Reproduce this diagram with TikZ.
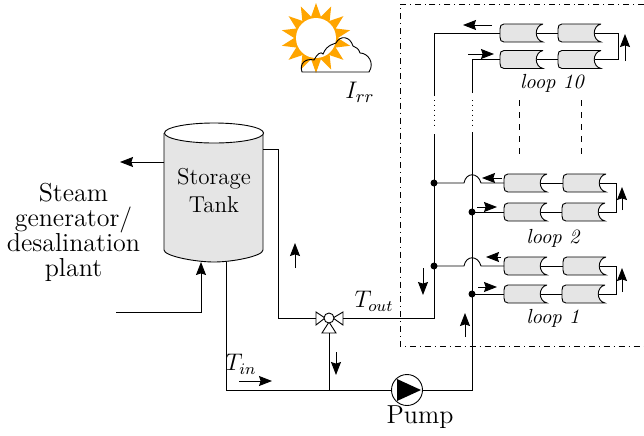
\documentclass[tikz,border=0pt]{standalone}
\usepackage{amsmath}
\usetikzlibrary{arrows.meta, shapes.geometric}
\definecolor{sunorange}{HTML}{FFA500}
\tikzset{
    collector/.pic={
        \draw[fill=gray!20] (43, -9) -- (4, -9) .. controls (1, -9) and (0, -7) .. (0, -4) -- (0, 4)
            .. controls (0, 7) and (1, 9) .. (4, 9) -- (43, 9) .. controls (34, 7) and (34, -7) .. (43, -9);
        \coordinate (-in) at (0, 0);
        \coordinate (-out) at (36.5, 0);
    },
    flow/.style={->, line width=0.45pt},
    looplabel/.style={font=\fontsize{10.2}{11}\selectfont\itshape},
    bigtext/.style={font=\fontsize{11.5}{14}\selectfont, align=center},
    sidetext/.style={font=\fontsize{13}{12.5}\selectfont, align=center}
}

\begin{document}
\begin{tikzpicture}[x=0.5pt, y=-0.5pt, >={Stealth[length=6.5pt, width=5pt, inset=0.8pt]}, line width=0.45pt]
    \useasboundingbox (0, 0) rectangle (644, 435);

    \draw[dash dot, line width=0.35pt] (644, 4) -- (400, 4) -- (400, 346) -- (644, 346);

    \node[star, star points=14, star point ratio=1.6, minimum size=35pt, inner sep=0pt, fill=sunorange] (sun) at (316, 38) {};
    \node[circle, minimum size=20pt, inner sep=0pt, fill=white] (sundisc) at (316, 38) {};
    \draw (302, 72) .. controls (299, 63) and (306, 58) .. (314, 60)
        .. controls (317, 54) and (321, 51) .. (323, 54)
        .. controls (327, 44) and (335, 44) .. (336, 43)
        .. controls (340, 35) and (350, 36) .. (353, 46)
        .. controls (356, 47) and (359, 49) .. (360, 53)
        .. controls (368, 53) and (375, 63) .. (369, 72) -- cycle;
    \node[font=\fontsize{13}{14}\selectfont] (irr) at (360, 92) {$I_{rr}$};

    \draw[fill=gray!20] (164, 133) -- (164, 250) .. controls (164, 256) and (195, 262) .. (214, 262)
        .. controls (233, 262) and (263, 256) .. (263, 250) -- (263, 133);
    \draw[fill=white] (214, 133) ellipse (49.5 and 10);
    \node[bigtext] (tank) at (214, 191) {Storage\\Tank};
    \coordinate (tankout) at (164, 162);
    \coordinate (tankin) at (201, 262);
    \coordinate (tankbot) at (226, 262);
    \coordinate (tankret) at (263, 149);
    \coordinate (steam) at (120, 162);
    \coordinate (feed) at (116, 312);

    \node[sidetext] (plant) at (73.5, 232) {Steam\\generator/\\desalination\\plant};

    \draw[->] (tankout) -- (steam);
    \draw[->] (feed) -| (tankin);

    \draw[fill=white] (325, 318) -- (316, 312) -- (316, 325) -- cycle;
    \draw[fill=white] (333, 318) -- (343, 312) -- (343, 325) -- cycle;
    \draw[fill=white] (329, 322) -- (322, 333) -- (336, 333) -- cycle;
    \node[circle, draw, fill=white, minimum size=5pt, inner sep=0pt] (valve) at (329, 318) {};
    \coordinate (valveleft) at (316, 318);
    \coordinate (valveright) at (343, 318);
    \coordinate (valvebot) at (329, 333);

    \node[circle, draw, fill=white, minimum size=15.5pt, inner sep=0pt] (pump) at (407, 390) {};
    \fill (397, 379) -- (421, 390) -- (397, 401) -- cycle;
    \node[font=\fontsize{13}{14}\selectfont] (pumplabel) at (420, 417) {Pump};

    \coordinate (retcorner) at (278, 318);
    \coordinate (botleft) at (226, 390);
    \coordinate (botmid) at (329, 390);
    \coordinate (botright) at (472, 390);
    \coordinate (coldtop) at (472, 93);
    \coordinate (coldbot) at (472, 132);
    \coordinate (hottop) at (434, 96);
    \coordinate (hotbot) at (434, 134);
    \coordinate (hotend) at (434, 318);

    \draw (tankret) -| (retcorner) -- (valveleft);
    \draw (valveright) -- (hotend) -- (hotbot);
    \draw (tankbot) -- (botleft) -- (pump);
    \draw (valvebot) -- (botmid);
    \draw (pump) -- (botright) -- (coldbot);
    \draw[dotted] (434, 100) -- (434, 128);
    \draw[dotted] (472, 100) -- (472, 128);

    \pic (tena) at (500, 33) {collector};
    \pic (tenb) at (558, 33) {collector};
    \pic (tenc) at (500, 59.5) {collector};
    \pic (tend) at (558, 59.5) {collector};
    \pic (twoa) at (504, 183) {collector};
    \pic (twob) at (563, 183) {collector};
    \pic (twoc) at (504, 212) {collector};
    \pic (twod) at (562, 212) {collector};
    \pic (onea) at (504, 266) {collector};
    \pic (oneb) at (563, 266) {collector};
    \pic (onec) at (504, 294) {collector};
    \pic (oned) at (562, 294) {collector};

    \draw (hottop) |- (tena-in);
    \draw (coldtop) |- (tenc-in);
    \draw (tena-out) -- (tenb-in);
    \draw (tenc-out) -- (tend-in);
    \draw (tenb-out) -- (618, 33) -- (618, 59.5) -- (tend-out);

    \fill (434, 183) coordinate (hottwo) circle (3.5);
    \fill (472, 212) coordinate (coldtwo) circle (3.5);
    \draw (hottwo) -- (464, 183) .. controls (466, 172) and (478, 172) .. (481, 183) -- (twoa-in);
    \draw (coldtwo) -- (twoc-in);
    \draw (twoa-out) -- (twob-in);
    \draw (twoc-out) -- (twod-in);
    \draw (twob-out) -- (616, 183) -- (616, 212) -- (twod-out);

    \fill (434, 266) coordinate (hotone) circle (3.5);
    \fill (472, 294) coordinate (coldone) circle (3.5);
    \draw (hotone) -- (464, 266) .. controls (466, 255) and (478, 255) .. (481, 266) -- (onea-in);
    \draw (coldone) -- (onec-in);
    \draw (onea-out) -- (oneb-in);
    \draw (onec-out) -- (oned-in);
    \draw (oneb-out) -- (616, 266) -- (616, 294) -- (oned-out);

    \draw[dashed] (519, 100) -- (519, 157);
    \draw[dashed] (581, 100) -- (581, 157);

    \node[looplabel] (loopten) at (552, 83) {loop 10};
    \node[looplabel] (looptwo) at (553, 238) {loop 2};
    \node[looplabel] (loopone) at (553, 318) {loop 1};

    \draw[flow] (492, 25) -- (463, 25);
    \draw[flow] (468, 54) -- (494, 54);
    \draw[flow] (625, 61) -- (625, 34);
    \draw[flow] (502, 178) -- (482, 178);
    \draw[flow] (477, 207) -- (497, 207);
    \draw[flow] (622, 210) -- (622, 187);
    \draw[flow] (501, 257) -- (486, 257);
    \draw[flow] (478, 287) -- (497, 287);
    \draw[flow] (622, 292) -- (622, 268);
    \draw[flow] (423, 268) -- (423, 295);
    \draw[flow] (465, 337) -- (465, 313);
    \draw[flow] (295, 268) -- (295, 243);
    \draw[flow] (336, 352) -- (336, 375);
    \draw[flow] (239, 381) -- (272, 381);

    \node[font=\fontsize{12}{14}\selectfont] (tout) at (374, 301) {$T_{out}$};
    \node[font=\fontsize{12}{14}\selectfont] (tin) at (241, 364) {$T_{in}$};
\end{tikzpicture}
\end{document}
